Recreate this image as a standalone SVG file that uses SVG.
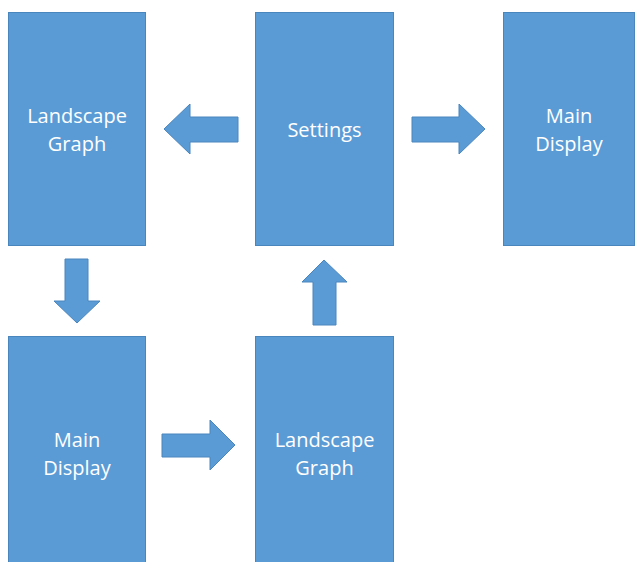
<svg xmlns="http://www.w3.org/2000/svg" width="636" height="562" viewBox="0 0 636 562">
<style>
.box{fill:#5B9BD5;stroke:#4A86BE;stroke-width:1}
.arr{fill:#5B9BD5;stroke:#4A86BE;stroke-width:1;stroke-linejoin:miter}
.lbl{fill:#FFFFFF;font-family:"Open Sans","Liberation Sans",sans-serif;font-size:20px;text-anchor:middle}
</style>
<rect width="636" height="562" fill="#FFFFFF"/>
<g id="node-landscape-top">
<rect class="box" x="8.5" y="12.5" width="137" height="233"/>
<text class="lbl" x="77" y="123">Landscape</text>
<text class="lbl" x="77" y="151">Graph</text>
</g>
<g id="node-settings">
<rect class="box" x="255.5" y="12.5" width="138" height="233"/>
<text class="lbl" x="324.5" y="137">Settings</text>
</g>
<g id="node-main-top">
<rect class="box" x="503.5" y="12.5" width="131" height="233"/>
<text class="lbl" x="569" y="123">Main</text>
<text class="lbl" x="569" y="151">Display</text>
</g>
<g id="node-main-bottom">
<rect class="box" x="8.5" y="336.5" width="137" height="230"/>
<text class="lbl" x="77" y="447">Main</text>
<text class="lbl" x="77" y="475">Display</text>
</g>
<g id="node-landscape-bottom">
<rect class="box" x="255.5" y="336.5" width="138" height="230"/>
<text class="lbl" x="324.5" y="447">Landscape</text>
<text class="lbl" x="324.5" y="475">Graph</text>
</g>
<g id="connectors">
<polygon class="arr" points="238,117 190,117 190,104 164,129 190,154 190,142 238,142"/>
<polygon class="arr" points="412,117 459,117 459,104 485,129 459,154 459,142 412,142"/>
<polygon class="arr" points="65,259 88,259 88,301 100,301 77,323 54,301 65,301"/>
<polygon class="arr" points="162,434 210,434 210,420 235,445 210,470 210,457 162,457"/>
<polygon class="arr" points="313,325 336,325 336,282 347,282 324,260 302,282 313,282"/>
</g>
</svg>
